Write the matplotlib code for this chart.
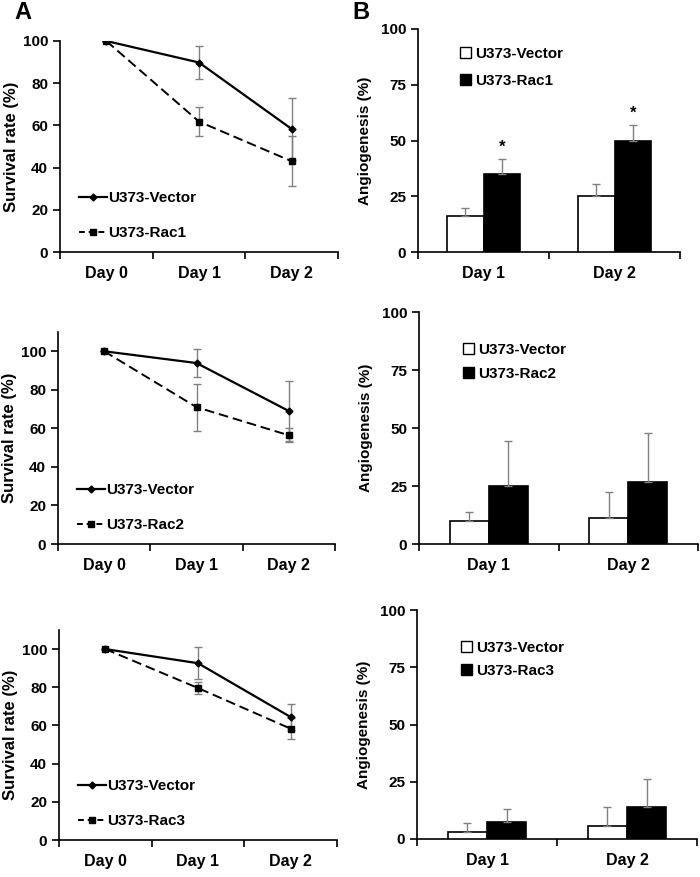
import matplotlib
matplotlib.use("Agg")
import matplotlib.pyplot as plt
from matplotlib.lines import Line2D
from matplotlib.patches import Patch

plt.rcParams['font.family'] = ['Liberation Sans', 'DejaVu Sans']
plt.rcParams['font.weight'] = 'bold'

# ---------------- data ----------------
days_line = ["Day 0", "Day 1", "Day 2"]
days_bar = ["Day 1", "Day 2"]
rac_names = ["U373-Rac1", "U373-Rac2", "U373-Rac3"]
vector_name = "U373-Vector"

# survival (panel A)
surv_vector = [[100, 89.8, 58.3], [100, 93.9, 69.0], [100, 92.6, 64.4]]
surv_vector_err = [[0, 7.7, 14.7], [0, 7.2, 15.6], [0, 8.5, 6.8]]
surv_rac = [[100, 61.8, 43.0], [100, 71.0, 56.4], [100, 79.6, 58.3]]
surv_rac_err = [[0, 6.8, 11.8], [0, 12.2, 3.6], [0, 3.3, 5.6]]
surv_ylim = [100, 110, 110]

# angiogenesis (panel B)
ang_vector = [[16.2, 25.3], [10.0, 11.2], [3.0, 5.8]]
ang_vector_err = [[3.4, 5.0], [4.0, 11.0], [4.0, 8.3]]
ang_rac = [[35.0, 49.8], [25.0, 26.8], [7.4, 14.1]]
ang_rac_err = [[6.6, 7.2], [19.2, 21.0], [5.8, 12.1]]
ang_sig = [["*", "*"], ["", ""], ["", ""]]

W, H = 700, 877
fig = plt.figure(figsize=(W / 100, H / 100), dpi=100)

def ax_px(l, r, t, b):
    return fig.add_axes([l / W, 1 - b / H, (r - l) / W, (b - t) / H])

a_boxes = [(60, 338, 41, 252), (58, 335, 332, 544), (59, 337, 630, 840)]
b_boxes = [(418, 680, 29, 252), (419, 698, 312, 544), (417, 697, 610, 839)]
b_leg_y = [0.968, 0.912, 0.912]
b_leg_sp = [0.85, 0.65, 0.6]

ERRC = '#808080'
FS = 11

def style_axes(ax, ncat):
    for s in ['top', 'right']:
        ax.spines[s].set_visible(False)
    for s in ['left', 'bottom']:
        ax.spines[s].set_linewidth(1.2)
    ax.set_xlim(-0.5, ncat - 0.5)
    ax.set_xticks(range(ncat))
    ax.set_xticks([i - 0.5 for i in range(ncat + 1)], minor=True)
    ax.tick_params(axis='x', which='major', length=0, pad=10, labelsize=11.5)
    ax.tick_params(axis='x', which='minor', length=5, width=1.2, direction='out')
    ax.tick_params(axis='y', length=5, width=1.2, direction='out', labelsize=FS)

for i in range(3):
    l, r, t, b = a_boxes[i]
    ax = ax_px(l, r, t, b)
    x = range(len(days_line))
    ax.errorbar(x, surv_vector[i], yerr=surv_vector_err[i], color='black', lw=1.6,
                marker='D', ms=3.5, ecolor=ERRC, elinewidth=1, capsize=3, capthick=1, zorder=3)
    ax.errorbar(x, surv_rac[i], yerr=surv_rac_err[i], color='black', lw=1.4, ls=(0, (5, 2.5)),
                marker='s', ms=5, ecolor=ERRC, elinewidth=1, capsize=3, capthick=1, zorder=3)
    ax.set_ylim(0, surv_ylim[i])
    ax.set_yticks(range(0, 101, 20))
    style_axes(ax, len(days_line))
    ax.set_xticklabels(days_line, fontweight='bold')
    ax.set_ylabel("Survival rate (%)", fontsize=12, fontweight='bold', labelpad=3)
    handles = [Line2D([], [], color='black', lw=1.6, marker='D', ms=3.5),
               Line2D([], [], color='black', lw=1.4, ls=(0, (3, 2)), marker='s', ms=5)]
    ax.legend(handles, [vector_name, rac_names[i]], loc='lower left',
              bbox_to_anchor=(0.03, 0.005), frameon=False, fontsize=FS,
              handlelength=1.8, handletextpad=0.1, labelspacing=1.4, borderpad=0.2)

for i in range(3):
    l, r, t, b = b_boxes[i]
    ax = ax_px(l, r, t, b)
    x = list(range(len(days_bar)))
    bw = 0.28
    xv = [xx - bw / 2 for xx in x]
    xr = [xx + bw / 2 for xx in x]
    ax.bar(xv, ang_vector[i], width=bw, color='white', edgecolor='black', lw=1.2,
           yerr=[[0] * len(x), ang_vector_err[i]], ecolor=ERRC,
           error_kw=dict(elinewidth=1, capsize=3, capthick=1), zorder=3)
    ax.bar(xr, ang_rac[i], width=bw, color='black', edgecolor='black', lw=1.2,
           yerr=[[0] * len(x), ang_rac_err[i]], ecolor=ERRC,
           error_kw=dict(elinewidth=1, capsize=3, capthick=1), zorder=3)
    for j in range(len(x)):
        if ang_sig[i][j]:
            ax.text(xr[j], ang_rac[i][j] + ang_rac_err[i][j] + 2, ang_sig[i][j],
                    ha='center', va='bottom', fontsize=FS + 1, fontweight='bold')
    ax.set_ylim(0, 100)
    ax.set_yticks(range(0, 101, 25))
    style_axes(ax, len(days_bar))
    ax.set_xticklabels(days_bar, fontweight='bold')
    ax.set_ylabel("Angiogenesis (%)", fontsize=11, fontweight='bold', labelpad=6)
    handles = [Patch(facecolor='white', edgecolor='black', lw=1),
               Patch(facecolor='black', edgecolor='black', lw=1)]
    ax.legend(handles, [vector_name, rac_names[i]], loc='upper left',
              bbox_to_anchor=(0.12, b_leg_y[i]), frameon=False, fontsize=FS,
              handlelength=0.7, handleheight=0.7, handletextpad=0.25,
              labelspacing=b_leg_sp[i], borderpad=0.2)

fig.text(14 / W, 1 - 1 / H, "A", fontsize=17, fontweight='bold', va='top', ha='left')
fig.text(352 / W, 1 - 1 / H, "B", fontsize=17, fontweight='bold', va='top', ha='left')

fig.savefig("out.png", dpi=100)
